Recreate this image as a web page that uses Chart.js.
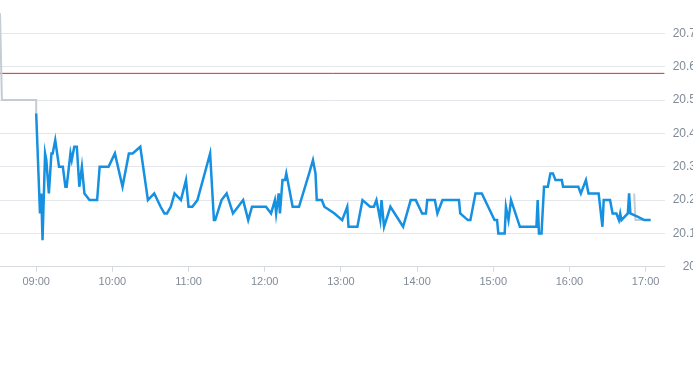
<!DOCTYPE html>
<html>
<head>
<meta charset="utf-8">
<script src="https://cdn.jsdelivr.net/npm/chart.js@4/dist/chart.umd.min.js"></script>
<style>
  html, body { margin: 0; padding: 0; background: #fff; overflow: hidden; }
  #wrap { position: relative; width: 696px; height: 365px; }
</style>
</head>
<body>
<div id="wrap"><canvas id="priceChart"></canvas></div>
<script>
// ── intraday price chart ──────────────────────────────────────────────────────

const priceTimes = [
  '09:00', '09:03', '09:04', '09:05', '09:07', '09:08', '09:10', '09:12', '09:13', '09:15',
  '09:18', '09:21', '09:23', '09:24', '09:27', '09:28', '09:30', '09:32', '09:34', '09:36',
  '09:38', '09:42', '09:48', '09:50', '09:57', '10:02', '10:08', '10:13', '10:16', '10:22',
  '10:28', '10:33', '10:38', '10:41', '10:43', '10:46', '10:49', '10:54', '10:58', '11:00',
  '11:03', '11:07', '11:17', '11:20', '11:21', '11:26', '11:30', '11:35', '11:39', '11:43',
  '11:47', '11:50', '12:01', '12:05', '12:08', '12:09', '12:11', '12:12', '12:14', '12:16',
  '12:17', '12:18', '12:22', '12:27', '12:35', '12:38', '12:40', '12:41', '12:45', '12:47',
  '12:55', '13:01', '13:05', '13:06', '13:13', '13:17', '13:23', '13:26', '13:28', '13:31',
  '13:32', '13:34', '13:39', '13:49', '13:55', '13:59', '14:04', '14:07', '14:08', '14:14',
  '14:16', '14:20', '14:33', '14:34', '14:40', '14:42', '14:46', '14:51', '15:01', '15:03',
  '15:04', '15:09', '15:10', '15:12', '15:14', '15:21', '15:34', '15:35', '15:36', '15:38',
  '15:40', '15:43', '15:45', '15:47', '15:49', '15:54', '15:55', '16:07', '16:09', '16:13',
  '16:15', '16:23', '16:26', '16:27', '16:32', '16:34', '16:37', '16:39', '16:40', '16:41',
  '16:46', '16:47', '16:48', '16:54', '16:59', '17:04',
];
const priceValues = [
  20.46, 20.16, 20.22, 20.08, 20.34, 20.32, 20.22, 20.34, 20.34, 20.38,
  20.30, 20.30, 20.24, 20.24, 20.34, 20.32, 20.36, 20.36, 20.24, 20.30,
  20.22, 20.20, 20.20, 20.30, 20.30, 20.34, 20.24, 20.34, 20.34, 20.36,
  20.20, 20.22, 20.18, 20.16, 20.16, 20.18, 20.22, 20.20, 20.26, 20.18,
  20.18, 20.20, 20.34, 20.14, 20.14, 20.20, 20.22, 20.16, 20.18, 20.20,
  20.14, 20.18, 20.18, 20.16, 20.20, 20.16, 20.22, 20.16, 20.26, 20.26,
  20.28, 20.26, 20.18, 20.18, 20.28, 20.32, 20.28, 20.20, 20.20, 20.18,
  20.16, 20.14, 20.18, 20.12, 20.12, 20.20, 20.18, 20.18, 20.20, 20.14,
  20.20, 20.12, 20.18, 20.12, 20.20, 20.20, 20.16, 20.16, 20.20, 20.20,
  20.16, 20.20, 20.20, 20.16, 20.14, 20.14, 20.22, 20.22, 20.14, 20.14,
  20.10, 20.10, 20.18, 20.14, 20.20, 20.12, 20.12, 20.20, 20.10, 20.10,
  20.24, 20.24, 20.28, 20.28, 20.26, 20.26, 20.24, 20.24, 20.22, 20.26,
  20.22, 20.22, 20.12, 20.20, 20.20, 20.16, 20.16, 20.14, 20.16, 20.14,
  20.16, 20.22, 20.16, 20.15, 20.14, 20.14,
];

// pre-open / closing auction trace (grey), null = gap
const auctionTimes  = ['08:31:30', '08:33', '09:00', '09:00', '09:00', '16:51', '16:52', '16:59'];
const auctionValues = [20.76, 20.50, 20.50, 20.46, null, 20.22, 20.14, 20.14];

const refLevel  = 20.58;            // red reference line
const refTimes  = ['08:31:30', '17:15'];

const yTicks     = [20, 20.1, 20.2, 20.3, 20.4, 20.5, 20.6, 20.7];
const xTickHours = ['09:00', '10:00', '11:00', '12:00', '13:00', '14:00', '15:00', '16:00', '17:00'];

const X_MIN = '08:31:30';
const X_MAX = '17:15';

// 'HH:MM[:SS]' -> minutes since midnight
function toMin(s) {
  const p = s.split(':').map(Number);
  return p[0] * 60 + p[1] + (p[2] || 0) / 60;
}
function fmtMin(m) {
  const h = Math.floor(m / 60), mm = Math.round(m % 60);
  return String(h).padStart(2, '0') + ':' + String(mm).padStart(2, '0');
}
function points(times, values) {
  return times.map((t, i) => ({ x: toMin(t), y: values[i] }));
}

const TICK_COLOR = '#808b97';
const GRID_COLOR = '#e3e6ea';
const FONT = "'Liberation Sans', Arial, sans-serif";
const xTickSet = xTickHours.map(toMin);

new Chart(document.getElementById('priceChart'), {
  type: 'line',
  data: {
    datasets: [
      {
        label: 'Kurs',
        data: points(priceTimes, priceValues),
        borderColor: '#1690e0',
        borderWidth: 2.5,
        pointRadius: 0,
        tension: 0,
        order: 1,
      },
      {
        label: 'Auktion',
        data: points(auctionTimes, auctionValues),
        borderColor: '#c5ccd3',
        borderWidth: 2,
        pointRadius: 0,
        tension: 0,
        spanGaps: false,
        order: 2,
      },
      {
        label: 'Referenz',
        data: refTimes.map(t => ({ x: toMin(t), y: refLevel })),
        borderColor: '#d3302c',
        borderWidth: 1,
        pointRadius: 0,
        order: 3,
      },
    ],
  },
  options: {
    responsive: true,
    maintainAspectRatio: false,
    animation: false,
    layout: { padding: { top: 0, left: 0, right: 0, bottom: 72 } },
    plugins: {
      legend:  { display: false },
      tooltip: { enabled: false },
    },
    scales: {
      x: {
        type: 'linear',
        min: toMin(X_MIN),
        max: toMin(X_MAX),
        afterBuildTicks: s => { s.ticks = xTickSet.map(v => ({ value: v })); },
        grid:   { drawOnChartArea: false, drawTicks: true, tickLength: 5, color: '#d6dadf' },
        border: { display: true, color: '#d6dadf' },
        ticks:  {
          padding: 4,
          color: TICK_COLOR,
          font: { family: FONT, size: 11 },
          maxRotation: 0,
          autoSkip: false,
          callback: v => fmtMin(v),
        },
      },
      y: {
        position: 'right',
        min: 20,
        max: 20.8,
        afterBuildTicks: s => { s.ticks = yTicks.map(v => ({ value: v })); },
        afterFit: s => { s.paddingTop = 0; s.paddingBottom = 0; },
        grid:   { color: GRID_COLOR, drawTicks: false },
        border: { display: false },
        ticks:  {
          padding: 4,
          crossAlign: 'far',
          color: TICK_COLOR,
          font: { family: FONT, size: 12 },
          callback: v => String(Number(v.toFixed(1))),
        },
      },
    },
  },
});
</script>
</body>
</html>
